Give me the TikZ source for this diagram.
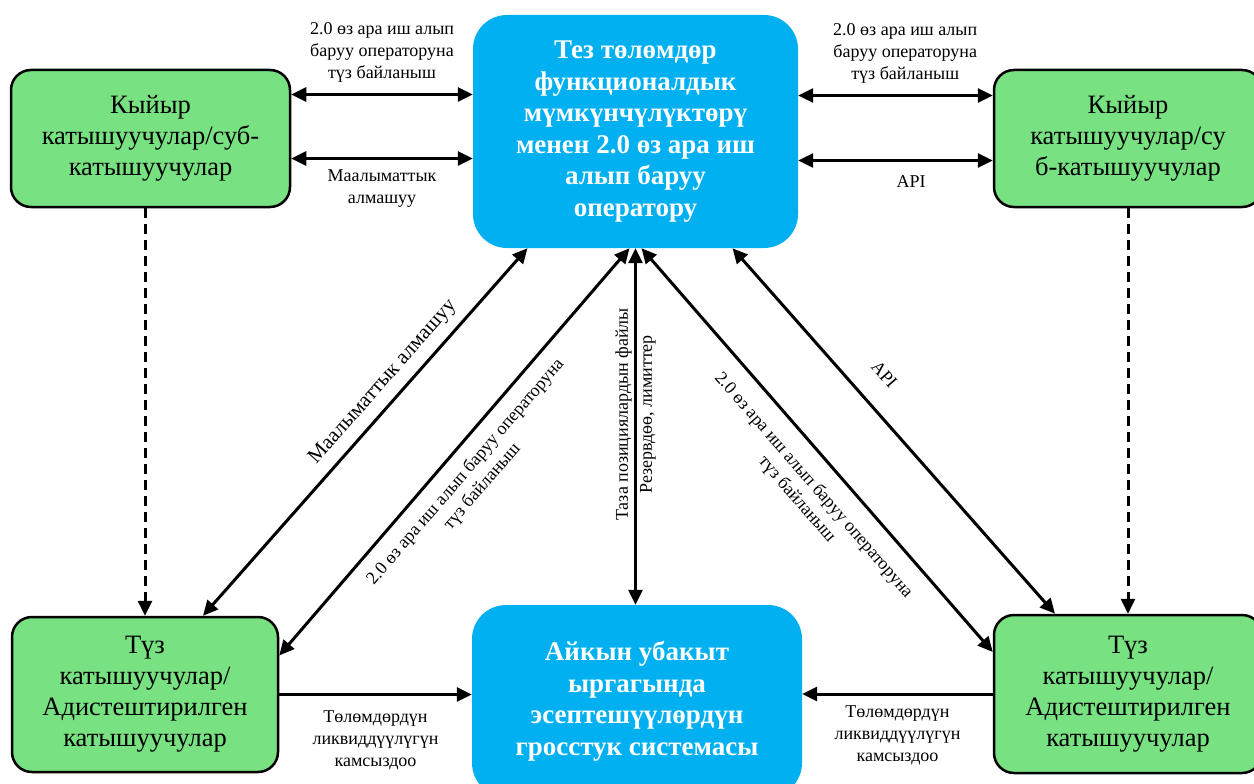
\documentclass[tikz,border=0pt]{standalone}
\usepackage{fontspec}
\setmainfont{Liberation Serif}
\usetikzlibrary{arrows.meta}
\definecolor{partgreen}{RGB}{120,225,130}
\definecolor{opblue}{RGB}{0,176,240}
\tikzstyle{party} = [rectangle, rounded corners=20pt, draw=black, line width=2.5pt, fill=partgreen, align=center, font=\fontsize{26.5}{31}\selectfont]
\tikzstyle{system} = [rectangle, rounded corners=34pt, fill=opblue, text=white, align=center, font=\fontsize{27}{31.5}\selectfont\bfseries]
\tikzstyle{lbl} = [align=center, inner sep=1pt, font=\fontsize{18}{22}\selectfont]
\tikzstyle{arrow} = [line width=3pt, -{Triangle[length=15pt,width=14pt]}]
\tikzstyle{twoway} = [line width=3pt, {Triangle[length=15pt,width=14pt]}-{Triangle[length=15pt,width=14pt]}]
\tikzstyle{dasharrow} = [arrow, dash pattern=on 10pt off 6pt]
\begin{document}
\begin{tikzpicture}[x=1pt,y=-1pt]
\useasboundingbox (0,0) rectangle (1254,784);

\node (operator) [system, minimum width=325pt, minimum height=233pt] at (635.5,131.5) {Тез төлөмдөр\\функционалдык\\мүмкүнчүлүктөрү\\менен 2.0 өз ара иш\\алып баруу\\оператору};
\node (gross) [system, minimum width=330pt, minimum height=192pt] at (637,701) {Айкын убакыт\\ыргагында\\эсептешүүлөрдүн\\гросстук системасы};
\node (indL) [party, minimum width=279pt, minimum height=137pt] at (150.5,138.5) {Кыйыр\\катышуучулар/суб-\\катышуучулар};
\node (indR) [party, minimum width=268pt, minimum height=137pt] at (1128,138.5) {Кыйыр\\катышуучулар/су\\б-катышуучулар};
\node (dirL) [party, minimum width=266pt, minimum height=155pt] at (145,694.5) {Түз\\катышуучулар/\\Адистештирилген\\катышуучулар};
\node (dirR) [party, minimum width=268pt, minimum height=158pt] at (1128,694) {Түз\\катышуучулар/\\Адистештирилген\\катышуучулар};

% top left
\draw [twoway] ([yshift=44pt]indL.east) -- ([yshift=44pt]indL.east -| operator.west) node[lbl, midway, above=10pt] {2.0 өз ара иш алып\\баруу операторуна\\түз байланыш};
\draw [twoway] ([yshift=-20pt]indL.east) -- ([yshift=-20pt]indL.east -| operator.west) node[lbl, midway, below=9pt] {Маалыматтык\\алмашуу};
% top right
\draw [twoway] ([yshift=43pt]indR.west -| operator.east) -- ([yshift=43pt]indR.west) node[lbl, pos=.55, above=10pt] {2.0 өз ара иш алып\\баруу операторуна\\түз байланыш};
\draw [twoway] ([yshift=-22pt]indR.west -| operator.east) -- ([yshift=-22pt]indR.west) node[lbl, pos=.58, below=13pt] {API};
% dashed
\draw [dasharrow] (dirL.north |- indL.south) -- (dirL.north);
\draw [dasharrow] (dirR.north |- indR.south) -- (dirR.north);
% diagonals
\draw [twoway] ([xshift=58pt]dirL.north) -- ([xshift=-108pt]operator.south) node[lbl, pos=.6, sloped, above=8pt, font=\fontsize{21}{25}\selectfont] {Маалыматтык алмашуу};
\draw [twoway] ([yshift=39pt]dirL.east) -- ([xshift=-6pt]operator.south) node[lbl, pos=.485, sloped, below=11pt] {2.0 өз ара иш алып баруу операторуна\\түз байланыш};
\draw [twoway] (operator.south |- gross.north) -- (operator.south) node[lbl, pos=.534, sloped, font=\fontsize{18}{24}\selectfont] {Таза позициялардын файлы\\Резервдөө, лимиттер};
\draw [twoway] ([xshift=6pt]operator.south) -- ([yshift=42pt]dirR.west) node[lbl, pos=.545, sloped, below=15pt] {2.0 өз ара иш алып баруу операторуна\\түз байланыш};
\draw [twoway] ([xshift=97pt]operator.south) -- ([xshift=-73pt]dirR.north) node[lbl, pos=.4, sloped, above=22pt] {API};
% bottom
\draw [arrow] (dirL.east) -- (dirL.east -| gross.west) node[lbl, midway, below=14pt] {Төлөмдөрдүн\\ликвиддүүлүгүн\\камсыздоо};
\draw [arrow] (dirR.west) -- (dirR.west -| gross.east) node[lbl, midway, below=9pt] {Төлөмдөрдүн\\ликвиддүүлүгүн\\камсыздоо};

\end{tikzpicture}
\end{document}
